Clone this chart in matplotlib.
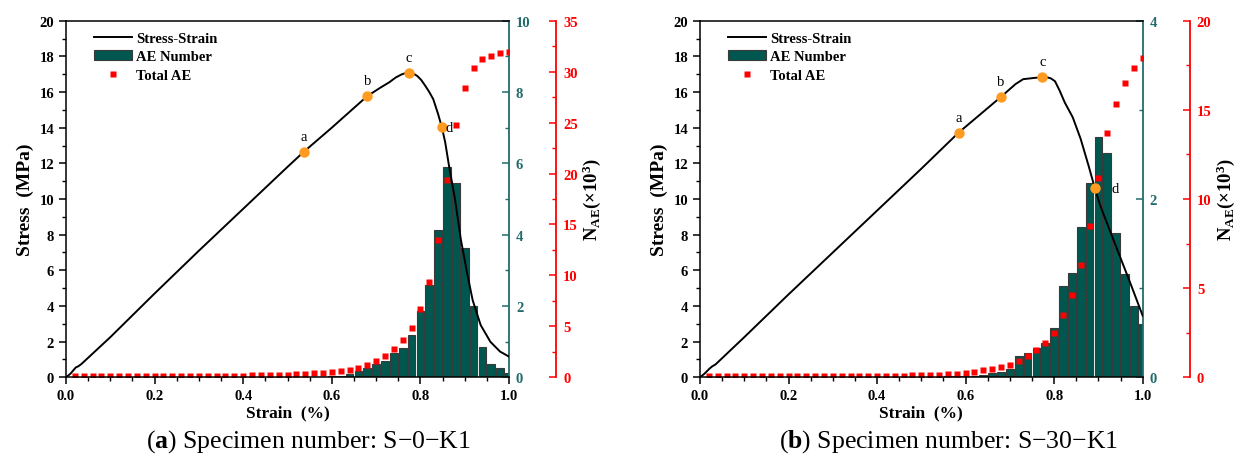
import matplotlib
matplotlib.use("Agg")
import matplotlib.pyplot as plt
from matplotlib.lines import Line2D
from matplotlib.patches import Patch
from matplotlib.ticker import MultipleLocator, FormatStrFormatter

plt.rcParams['font.family'] = ['Liberation Serif', 'DejaVu Serif']
plt.rcParams['mathtext.fontset'] = 'custom'
plt.rcParams['mathtext.rm'] = 'Liberation Serif:bold'
plt.rcParams['mathtext.bf'] = 'Liberation Serif:bold'
plt.rcParams['mathtext.it'] = 'Liberation Serif:bold'

# ---------------- data: panel (a) S-0-K1 ----------------
a_curve_strain = [0.0, 0.01, 0.022, 0.028, 0.035, 0.1, 0.2, 0.3, 0.4, 0.5, 0.5365, 0.6, 0.68,
                  0.71, 0.73, 0.744, 0.757, 0.767, 0.774, 0.783, 0.793, 0.802, 0.811, 0.82,
                  0.829, 0.840, 0.8485, 0.856, 0.8645, 0.878, 0.891, 0.905, 0.918, 0.936,
                  0.958, 0.98, 1.0]
a_curve_stress = [0.0, 0.2, 0.55, 0.62, 0.75, 2.25, 4.7, 7.1, 9.45, 11.8, 12.64, 14.0, 15.77,
                  16.25, 16.55, 16.81, 16.98, 17.07, 17.09, 17.05, 16.9, 16.67, 16.35, 16.0,
                  15.6, 14.76, 14.02, 13.18, 11.87, 10.0, 7.77, 5.9, 4.32, 2.93,
                  1.99, 1.44, 1.16]
a_pts_label = ['a', 'b', 'c', 'd']
a_pts_strain = [0.5365, 0.68, 0.774, 0.8485]
a_pts_stress = [12.64, 15.77, 17.09, 14.02]

a_bar_strain = [0.54, 0.56, 0.58, 0.60, 0.62, 0.64, 0.66, 0.68, 0.70, 0.72, 0.74, 0.76, 0.78,
                0.80, 0.82, 0.84, 0.86, 0.88, 0.90, 0.92, 0.94, 0.96, 0.98, 1.00]
a_bar_count = [0.01, 0.02, 0.02, 0.03, 0.05, 0.10, 0.17, 0.26, 0.38, 0.45, 0.69, 0.83, 1.20,
               1.86, 2.58, 4.14, 5.90, 5.45, 3.63, 1.99, 0.84, 0.37, 0.25, 0.11]

a_tot_strain = [0.02, 0.04, 0.06, 0.08, 0.10, 0.12, 0.14, 0.16, 0.18, 0.20, 0.22, 0.24, 0.26,
                0.28, 0.30, 0.32, 0.34, 0.36, 0.38, 0.40, 0.42, 0.44, 0.46, 0.48, 0.50, 0.52,
                0.54, 0.56, 0.58, 0.60, 0.62, 0.64, 0.66, 0.68, 0.70, 0.72, 0.74, 0.76, 0.78,
                0.80, 0.82, 0.84, 0.86, 0.88, 0.90, 0.92, 0.94, 0.96, 0.98, 1.00]
a_tot_ae = [0.10, 0.10, 0.10, 0.10, 0.10, 0.10, 0.11, 0.11, 0.11, 0.11, 0.12, 0.12, 0.12,
            0.13, 0.13, 0.14, 0.14, 0.15, 0.16, 0.17, 0.18, 0.20, 0.22, 0.24, 0.27, 0.31,
            0.35, 0.40, 0.46, 0.52, 0.59, 0.70, 0.92, 1.21, 1.64, 2.10, 2.82, 3.63, 4.87,
            6.74, 9.32, 13.5, 19.4, 24.75, 28.4, 30.4, 31.2, 31.5, 31.8, 31.9]

# ---------------- data: panel (b) S-30-K1 ----------------
b_curve_strain = [0.0, 0.01, 0.022, 0.028, 0.035, 0.1, 0.2, 0.3, 0.4, 0.5, 0.584, 0.679,
                  0.7125, 0.73, 0.755, 0.773, 0.785, 0.793, 0.802, 0.812, 0.824, 0.842, 0.86,
                  0.8777, 0.892, 0.904, 0.927, 0.949, 0.971, 1.0]
b_curve_stress = [0.0, 0.2, 0.5, 0.62, 0.72, 2.25, 4.65, 7.0, 9.35, 11.7, 13.72, 15.71,
                  16.44, 16.72, 16.79, 16.83, 16.82, 16.76, 16.6, 16.1, 15.41, 14.58, 13.36,
                  11.87, 10.6, 9.64, 8.15, 6.75, 5.35, 3.45]
b_pts_label = ['a', 'b', 'c', 'd']
b_pts_strain = [0.584, 0.679, 0.773, 0.892]
b_pts_stress = [13.72, 15.71, 16.83, 10.6]

b_bar_strain = [0.56, 0.58, 0.60, 0.62, 0.64, 0.66, 0.68, 0.70, 0.72, 0.74, 0.76, 0.78, 0.80,
                0.82, 0.84, 0.86, 0.88, 0.90, 0.92, 0.94, 0.96, 0.98, 1.00]
b_bar_count = [0.01, 0.01, 0.015, 0.02, 0.03, 0.045, 0.065, 0.095, 0.24, 0.27, 0.33, 0.39, 0.55,
               1.02, 1.17, 1.685, 2.18, 2.69, 2.52, 1.62, 1.16, 0.80, 0.60]

b_tot_strain = a_tot_strain
b_tot_ae = [0.05, 0.05, 0.05, 0.05, 0.05, 0.05, 0.05, 0.05, 0.05, 0.05, 0.06, 0.06, 0.06,
            0.06, 0.07, 0.07, 0.07, 0.07, 0.08, 0.08, 0.08, 0.09, 0.10, 0.11, 0.12, 0.13,
            0.15, 0.17, 0.20, 0.24, 0.32, 0.39, 0.47, 0.55, 0.71, 0.93, 1.18, 1.53, 1.92,
            2.48, 3.49, 4.63, 6.32, 8.5, 11.18, 13.7, 15.32, 16.48, 17.32, 17.91]

# ---------------- style ----------------
TEAL = '#00574F'
TEAL_AX = '#236B6B'
RED = '#FF0000'
ORANGE = '#FF9B21'
W, H = 1240, 477


def panel(rect, cs, cy, pl, px, py, bx, bc, tx, tv, teal_max, teal_major, red_max,
          red_major, dlabel_off, caption, cap_x):
    ax = fig.add_axes(rect)
    axb = ax.twinx()
    axr = ax.twinx()
    axb.set_zorder(1)
    axr.set_zorder(2)
    ax.set_zorder(3)
    ax.patch.set_visible(False)

    # bars (AE number)
    axb.bar(bx, bc, width=0.0175, color=TEAL, edgecolor='#3a3a3a', linewidth=0.8)
    axb.set_ylim(0, teal_max)
    axb.set_xlim(0, 1)
    # total AE
    axr.plot(tx, tv, linestyle='none', marker='s', ms=5, color=RED, mec='none')
    axr.set_ylim(0, red_max)
    # stress-strain
    ax.plot(cs, cy, color='black', lw=1.4)
    ax.plot(px, py, linestyle='none', marker='o', ms=7.5, color=ORANGE, mec='none')
    for lab, xx, yy in zip(pl, px, py):
        if lab == 'd':
            ax.text(xx + dlabel_off, yy, lab, fontsize=10.5, ha='left', va='center')
        else:
            ax.text(xx, yy + 0.5, lab, fontsize=10.5, ha='center', va='bottom')
    ax.set_xlim(0, 1)
    ax.set_ylim(0, 20)

    # host axes styling
    for s in ['left', 'bottom', 'top']:
        ax.spines[s].set_linewidth(1.1)
    ax.spines['right'].set_visible(False)
    ax.xaxis.set_major_locator(MultipleLocator(0.2))
    ax.xaxis.set_minor_locator(MultipleLocator(0.05))
    ax.yaxis.set_major_locator(MultipleLocator(2))
    ax.yaxis.set_minor_locator(MultipleLocator(1))
    ax.tick_params(axis='both', which='major', direction='out', length=5, width=1.1,
                   labelsize=10.5)
    ax.tick_params(axis='both', which='minor', direction='out', length=3, width=1.0)
    ax.xaxis.set_major_formatter(FormatStrFormatter('%.1f'))
    for t in ax.get_xticklabels() + ax.get_yticklabels():
        t.set_fontweight('bold')
    ax.set_xlabel('Strain  (%)', fontsize=12.5, fontweight='bold', labelpad=2)
    ax.set_ylabel('Stress  (MPa)', fontsize=14, fontweight='bold', labelpad=4)

    # teal axis
    for s in ['left', 'bottom', 'top']:
        axb.spines[s].set_visible(False)
        axr.spines[s].set_visible(False)
    axb.spines['right'].set_color(TEAL_AX)
    axb.spines['right'].set_linewidth(1.3)
    axb.yaxis.set_major_locator(MultipleLocator(teal_major))
    axb.yaxis.set_minor_locator(MultipleLocator(teal_major / 2))
    axb.tick_params(axis='y', which='major', direction='in', length=5, width=1.1,
                    colors=TEAL_AX, labelsize=10.5, pad=5)
    axb.tick_params(axis='y', which='minor', direction='in', length=3, width=1.0,
                    colors=TEAL_AX)
    for t in axb.get_yticklabels():
        t.set_fontweight('bold')

    # red axis
    axr.spines['right'].set_position(('outward', 34))
    axr.spines['right'].set_color(RED)
    axr.spines['right'].set_linewidth(1.3)
    axr.yaxis.set_major_locator(MultipleLocator(red_major))
    axr.yaxis.set_minor_locator(MultipleLocator(red_major / 2))
    axr.tick_params(axis='y', which='major', direction='in', length=5, width=1.1,
                    colors=RED, labelsize=10.5, pad=5)
    axr.tick_params(axis='y', which='minor', direction='in', length=3, width=1.0,
                    colors=RED)
    for t in axr.get_yticklabels():
        t.set_fontweight('bold')
    axr.set_ylabel(r'N$_{\mathbf{AE}}$(×10$^{\mathbf{3}}$)', fontsize=13.5,
                   fontweight='bold', color='black', labelpad=2)

    handles = [Line2D([], [], color='black', lw=1.4),
               Patch(facecolor=TEAL, edgecolor='#3a3a3a', linewidth=0.8),
               Line2D([], [], linestyle='none', marker='s', ms=5, color=RED, mec='none')]
    ax.legend(handles, ['Stress-Strain', 'AE Number', 'Total AE'], loc='upper left',
              bbox_to_anchor=(0.05, 0.985), frameon=False,
              prop={'family': 'Liberation Serif', 'weight': 'bold', 'size': 10.5},
              handlelength=2.6, handletextpad=0.3, labelspacing=0.35, borderaxespad=0.0)

    fig.text(cap_x, 1 - 442 / H, caption, fontsize=18.5, ha='center', va='center')
    return ax


fig = plt.figure(figsize=(W / 100, H / 100), dpi=100)
fig.patch.set_facecolor('white')

bottom = 1 - 378.3 / H
height = (378.3 - 21.7) / H
panel([66 / W, bottom, (509 - 66) / W, height],
      a_curve_strain, a_curve_stress, a_pts_label, a_pts_strain, a_pts_stress,
      a_bar_strain, a_bar_count, a_tot_strain, a_tot_ae, 10, 2, 35, 5, 0.008,
      r'($\mathbf{a}$) Specimen number: S−0−K1', 308 / W)
panel([700 / W, bottom, (1142.7 - 700) / W, height],
      b_curve_strain, b_curve_stress, b_pts_label, b_pts_strain, b_pts_stress,
      b_bar_strain, b_bar_count, b_tot_strain, b_tot_ae, 4, 2, 20, 5, 0.038,
      r'($\mathbf{b}$) Specimen number: S−30−K1', 949 / W)

fig.savefig('out.png', dpi=100, facecolor='white')
